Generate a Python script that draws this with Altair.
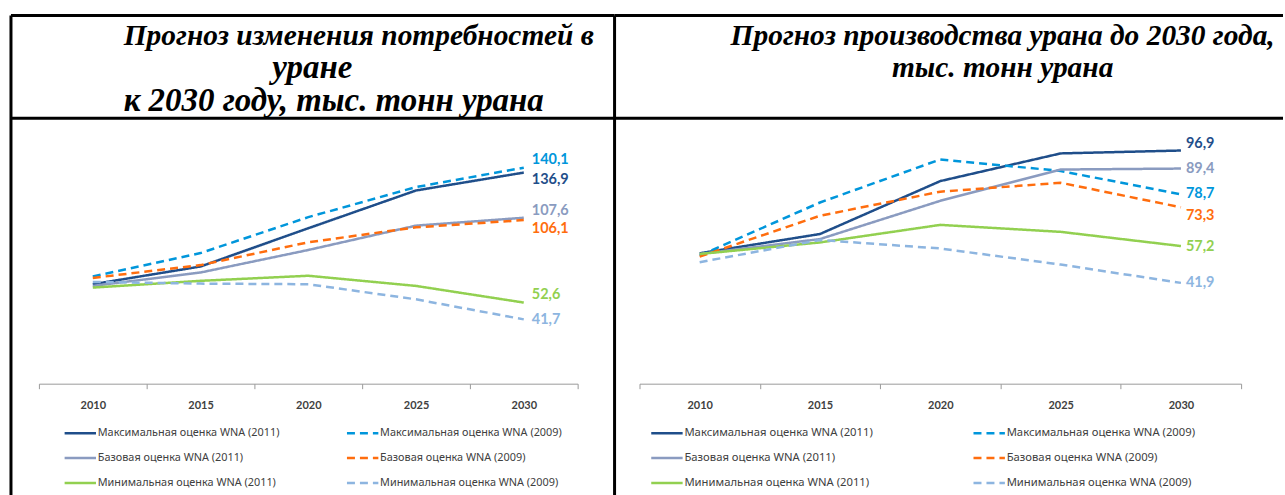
import altair as alt
import pandas as pd

# ---------------- data ----------------
YEARS = [2010, 2015, 2020, 2025, 2030]
SERIES = [
    "Максимальная оценка WNA (2011)",
    "Максимальная оценка WNA (2009)",
    "Базовая оценка WNA (2011)",
    "Базовая оценка WNA (2009)",
    "Минимальная оценка WNA (2011)",
    "Минимальная оценка WNA (2009)",
]

# demand forecast (left), thousand t U
DEM_MAX_2011 = [64.5, 76.0, 100.8, 125.3, 136.9]
DEM_MAX_2009 = [69.5, 84.7, 108.0, 127.5, 140.1]
DEM_BASE_2011 = [63.4, 72.1, 86.7, 102.5, 107.6]
DEM_BASE_2009 = [68.6, 76.9, 91.7, 101.4, 106.1]
DEM_MIN_2011 = [62.3, 66.7, 70.0, 63.4, 52.6]
DEM_MIN_2009 = [66.0, 64.9, 64.5, 54.7, 41.7]

# production forecast (right), thousand t U
PRD_MAX_2011 = [54.2, 62.2, 84.2, 95.7, 96.9]
PRD_MAX_2009 = [53.2, 75.3, 93.2, 88.4, 78.7]
PRD_BASE_2011 = [53.9, 60.1, 76.0, 89.0, 89.4]
PRD_BASE_2009 = [52.8, 69.8, 79.8, 83.5, 73.3]
PRD_MIN_2011 = [53.9, 58.7, 66.0, 63.1, 57.2]
PRD_MIN_2009 = [50.5, 59.7, 56.2, 49.5, 41.9]

TITLE_LEFT = ["Прогноз изменения потребностей в", "уране", "к 2030 году, тыс. тонн урана"]
TITLE_RIGHT = ["Прогноз производства урана до 2030 года,", "тыс. тонн урана"]

# ---------------- styles ----------------
COLORS = ["#1F4E8A", "#0096DB", "#8A9BC0", "#FF6D0E", "#92D050", "#8DB5E0"]
DASHES = [[1, 0], [8, 5], [1, 0], [8, 5], [1, 0], [8, 5]]
# legend fills column by column: 2011 series in column 1, 2009 series in column 2
LEGEND_ORDER = [0, 2, 4, 1, 3, 5]

LEFT_LABEL_DY = [7, -8, -7, 9, -8, 1]
RIGHT_LABEL_DY = [-6.5, 0, 0, 8.5, 1, 0]

ONE = pd.DataFrame({"k": [0]})


def long_df(rows):
    recs = []
    for s, vals in zip(SERIES, rows):
        for yr, v in zip(YEARS, vals):
            recs.append({"series": s, "year": yr, "value": v})
    return pd.DataFrame(recs)


def hrule(x1, x2, y):
    return alt.Chart(ONE).mark_rule(color="black", strokeWidth=3).encode(
        x=alt.value(x1), x2=alt.value(x2), y=alt.value(y))


def vrule(x, y1, y2):
    return alt.Chart(ONE).mark_rule(color="black", strokeWidth=3).encode(
        x=alt.value(x), y=alt.value(y1), y2=alt.value(y2))


def title_text(s, x, y, align, size=29.5):
    return alt.Chart(ONE).mark_text(
        font="Liberation Serif", fontSize=size, fontWeight="bold", fontStyle="italic",
        color="black", align=align, baseline="alphabetic",
    ).encode(x=alt.value(x), y=alt.value(y), text=alt.value(s))


def panel(rows, width, x_range, y_max, legend_x, legend_y, label_dx, label_dy,
          col_pad, leg_font, extra_layers):
    df = long_df(rows)
    dom = [SERIES[i] for i in LEGEND_ORDER]
    col_rng = [COLORS[i] for i in LEGEND_ORDER]
    dash_rng = [DASHES[i] for i in LEGEND_ORDER]
    x = alt.X(
        "year:O", title=None, bandPosition=0.5,
        scale=alt.Scale(type="band", range=x_range, paddingInner=0, paddingOuter=0),
        axis=alt.Axis(labelAngle=0, tickBand="extent", domainColor="#9a9a9a",
                      tickColor="#9a9a9a", tickSize=5, domainWidth=1, tickWidth=1,
                      labelFont="Lato", labelFontWeight="bold", labelFontSize=11,
                      labelColor="#404040", labelPadding=11, grid=False),
    )
    y = alt.Y("value:Q", axis=None,
              scale=alt.Scale(domain=[0, y_max], nice=False, zero=True))
    leg = alt.Legend(
        title=None, orient="none", legendX=legend_x, legendY=legend_y, columns=2,
        symbolType="M-3,0H3", symbolSize=110, symbolStrokeWidth=2.5,
        labelFont="Noto Sans", labelFontSize=leg_font, labelColor="#404040",
        labelLimit=400, labelOffset=11, rowPadding=13, columnPadding=col_pad,
    )
    lines = alt.Chart(df).mark_line(strokeWidth=2.5).encode(
        x=x, y=y,
        color=alt.Color("series:N", scale=alt.Scale(domain=dom, range=col_rng), legend=leg),
        strokeDash=alt.StrokeDash("series:N", scale=alt.Scale(domain=dom, range=dash_rng), legend=leg),
        detail="series:N",
    )
    last = df[df["year"] == YEARS[-1]].copy()
    last["label"] = last["value"].map(lambda v: f"{v:.1f}".replace(".", ","))
    labels = []
    for s, c, dy in zip(SERIES, COLORS, label_dy):
        labels.append(
            alt.Chart(last[last["series"] == s]).mark_text(
                font="Lato", fontWeight="bold", fontSize=14.5, align="left",
                baseline="middle", dx=label_dx, dy=dy, color=c,
            ).encode(x=x, y=y, text="label:N")
        )
    return alt.layer(*extra_layers, lines, *labels).properties(width=width, height=383)


left_extra = [
    hrule(10, 615, 14), hrule(10, 615, 117), vrule(10, 14, 495), vrule(615, 14, 495),
    title_text(TITLE_LEFT[0], 123, 44, "left"),
    title_text(TITLE_LEFT[1], 272, 77, "left", 33),
    title_text(TITLE_LEFT[2], 123, 110, "left", 33),
]
right_extra = [
    hrule(0, 670, 14), hrule(0, 670, 117),
    title_text(TITLE_RIGHT[0], 389, 44, "center"),
    title_text(TITLE_RIGHT[1], 389, 76, "center"),
]

left = panel([DEM_MAX_2011, DEM_MAX_2009, DEM_BASE_2011, DEM_BASE_2009, DEM_MIN_2011, DEM_MIN_2009],
             615, [38, 578], 247.8, 73, 426, 8, LEFT_LABEL_DY, 61, 10.9, left_extra)
right = panel([PRD_MAX_2011, PRD_MAX_2009, PRD_BASE_2011, PRD_BASE_2009, PRD_MIN_2011, PRD_MIN_2009],
              670, [25, 628], 158.8, 46, 426, 5, RIGHT_LABEL_DY, 95, 11.3, right_extra)

chart = alt.hconcat(left, right, spacing=0, bounds="flush").resolve_scale(
    x="independent", y="independent", color="independent", strokeDash="independent"
).resolve_legend(color="independent", strokeDash="independent").properties(
    padding=0, background="white"
).configure_view(stroke="transparent")

chart.save("out.html", embed_options={"renderer": "svg", "actions": False})
